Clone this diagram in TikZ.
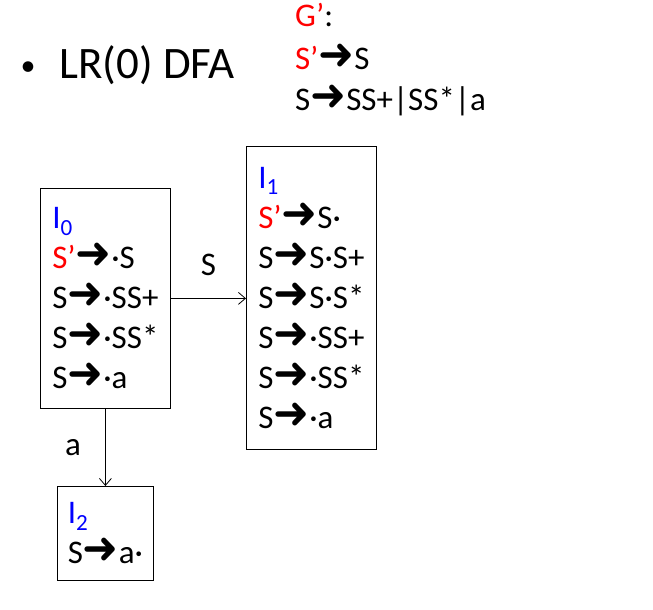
\documentclass[tikz,border=0pt]{standalone}
\usepackage{fontspec}
\setmainfont{Carlito}
\newfontfamily\arrowfont{DejaVu Sans}
\usetikzlibrary{arrows.meta}

\newcommand{\goes}{\scalebox{1.3}[1.35]{\arrowfont\fontsize{33}{40}\selectfont ➜}}
\newcommand{\Sprime}{\textcolor{red}{S’}}
\newcommand{\itemset}[1]{\textcolor{blue}{I\textsubscript{#1}}}

\begin{document}
\begin{tikzpicture}[x=1pt,y=-1pt,
  state/.style={draw, line width=0.8pt, anchor=north west, align=left,
    inner xsep=4pt, inner ysep=0pt, font=\fontsize{33}{40}\selectfont},
  trans/.style={-{Straight Barb[length=7pt,width=12pt]}, line width=0.8pt},
  lbl/.style={font=\fontsize{33}{40}\selectfont, inner sep=0pt}]
\useasboundingbox (0,0) rectangle (653,610);

% title and grammar
\node[anchor=base west, font=\fontsize{30}{40}\selectfont] (bullet) at (17,76) {•};
\node[anchor=base west, font=\fontsize{45}{50}\selectfont] (title) at (56,78) {LR(0) DFA};
\node[lbl, anchor=base west] (g0) at (295,27) {\textcolor{red}{G’}:};
\node[lbl, anchor=base west] (g1) at (295,70) {\Sprime\goes S};
\node[lbl, anchor=base west] (g2) at (295,110) {S\goes SS+|SS*|a};

% item sets
\node[state, minimum width=130, minimum height=220] (I0) at (40,188)
  {\itemset{0}\\ \Sprime\goes·S\\ S\goes·SS+\\ S\goes·SS*\\ S\goes·a};
\node[state, minimum width=130, minimum height=303] (I1) at (246,146)
  {\itemset{1}\\ \Sprime\goes S·\\ S\goes S·S+\\ S\goes S·S*\\ S\goes·SS+\\ S\goes·SS*\\ S\goes·a};
\node[state, minimum width=96, minimum height=94] (I2) at (57,486)
  {\itemset{2}\\ S\goes a·};

% transitions
\draw[trans] (I0.east) -- node[lbl, above=22] (lS) {S} (I1.west |- I0.east);
\draw[trans] (I0.south) -- node[lbl, left=24] (la) {a} (I2.north);
\end{tikzpicture}
\end{document}
